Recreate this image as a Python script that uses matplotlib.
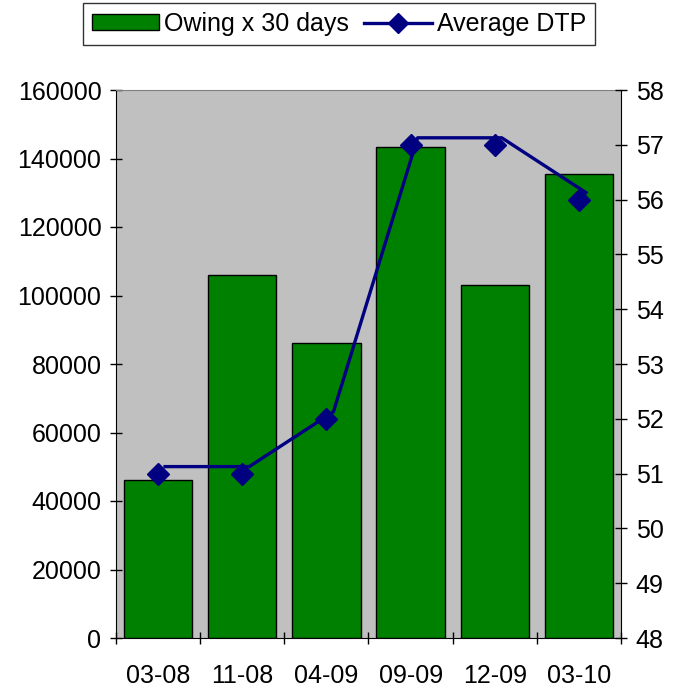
import matplotlib
matplotlib.use("Agg")
import matplotlib.pyplot as plt
import matplotlib.transforms as mtransforms
from matplotlib.patches import Patch
from matplotlib.lines import Line2D
import numpy as np

categories = ["03-08", "11-08", "04-09", "09-09", "12-09", "03-10"]
owing = [46000, 106000, 86000, 143500, 103000, 135500]
dtp = [51, 51, 52, 57, 57, 56]

plt.rcParams['font.family'] = ['Liberation Sans', 'DejaVu Sans']
plt.rcParams['font.size'] = 18

fig = plt.figure(figsize=(6.76, 6.92), dpi=100)
ax = fig.add_axes([116/676, 54/692, 505/676, 548/692])
ax.set_facecolor('#C0C0C0')

x = np.arange(len(categories))
ax.bar(x, owing, width=0.81, color='#008000', edgecolor='black', linewidth=1, zorder=2)
ax.set_xlim(-0.5, len(categories) - 0.5)
ax.set_ylim(0, 160000)
ax.set_yticks(np.arange(0, 160001, 20000))
ax.set_xticks(x)
ax.set_xticklabels(categories)
ax.set_xticks(np.arange(-0.5, len(categories), 1), minor=True)
ax.tick_params(axis='x', which='major', length=0, pad=19, labelsize=18)
ax.tick_params(axis='x', which='minor', length=8, direction='inout', width=1)
ax.tick_params(axis='y', direction='inout', length=9, width=1, pad=6, labelsize=18)
for s in ['left', 'bottom']:
    ax.spines[s].set_color('black')
ax.spines['top'].set_color('#808080')
ax.spines['right'].set_visible(False)

ax2 = ax.twinx()
ax2.set_ylim(48, 58)
ax2.set_yticks(np.arange(48, 59, 1))
ax2.tick_params(axis='y', direction='inout', length=9, width=1, pad=6, labelsize=18)
ax2.spines['right'].set_color('black')
ax2.spines['top'].set_visible(False)
ax2.spines['left'].set_visible(False)
ax2.spines['bottom'].set_visible(False)

off = mtransforms.offset_copy(ax2.transData, fig=fig, x=7, y=7, units='dots')
ax2.plot(x, dtp, color='#000080', linewidth=2.4, transform=off, zorder=3)
ax2.plot(x, dtp, linestyle='none', marker='D', markersize=11, color='#000080', zorder=4)

handles = [Patch(facecolor='#008000', edgecolor='black', linewidth=1),
           Line2D([0], [0], color='#000080', linewidth=2.4, marker='D', markersize=10)]
leg = fig.legend(handles, ['Owing x 30 days', 'Average DTP'], loc='center',
                 bbox_to_anchor=(339/676, 1 - 24/692), ncol=2, frameon=True,
                 fancybox=False, edgecolor='black', fontsize=18,
                 handlelength=2.7, handleheight=0.6, columnspacing=0.6,
                 handletextpad=0.2, borderpad=0.35, borderaxespad=0)
leg.get_frame().set_linewidth(1)

fig.savefig('out.png', dpi=100, facecolor='white')
